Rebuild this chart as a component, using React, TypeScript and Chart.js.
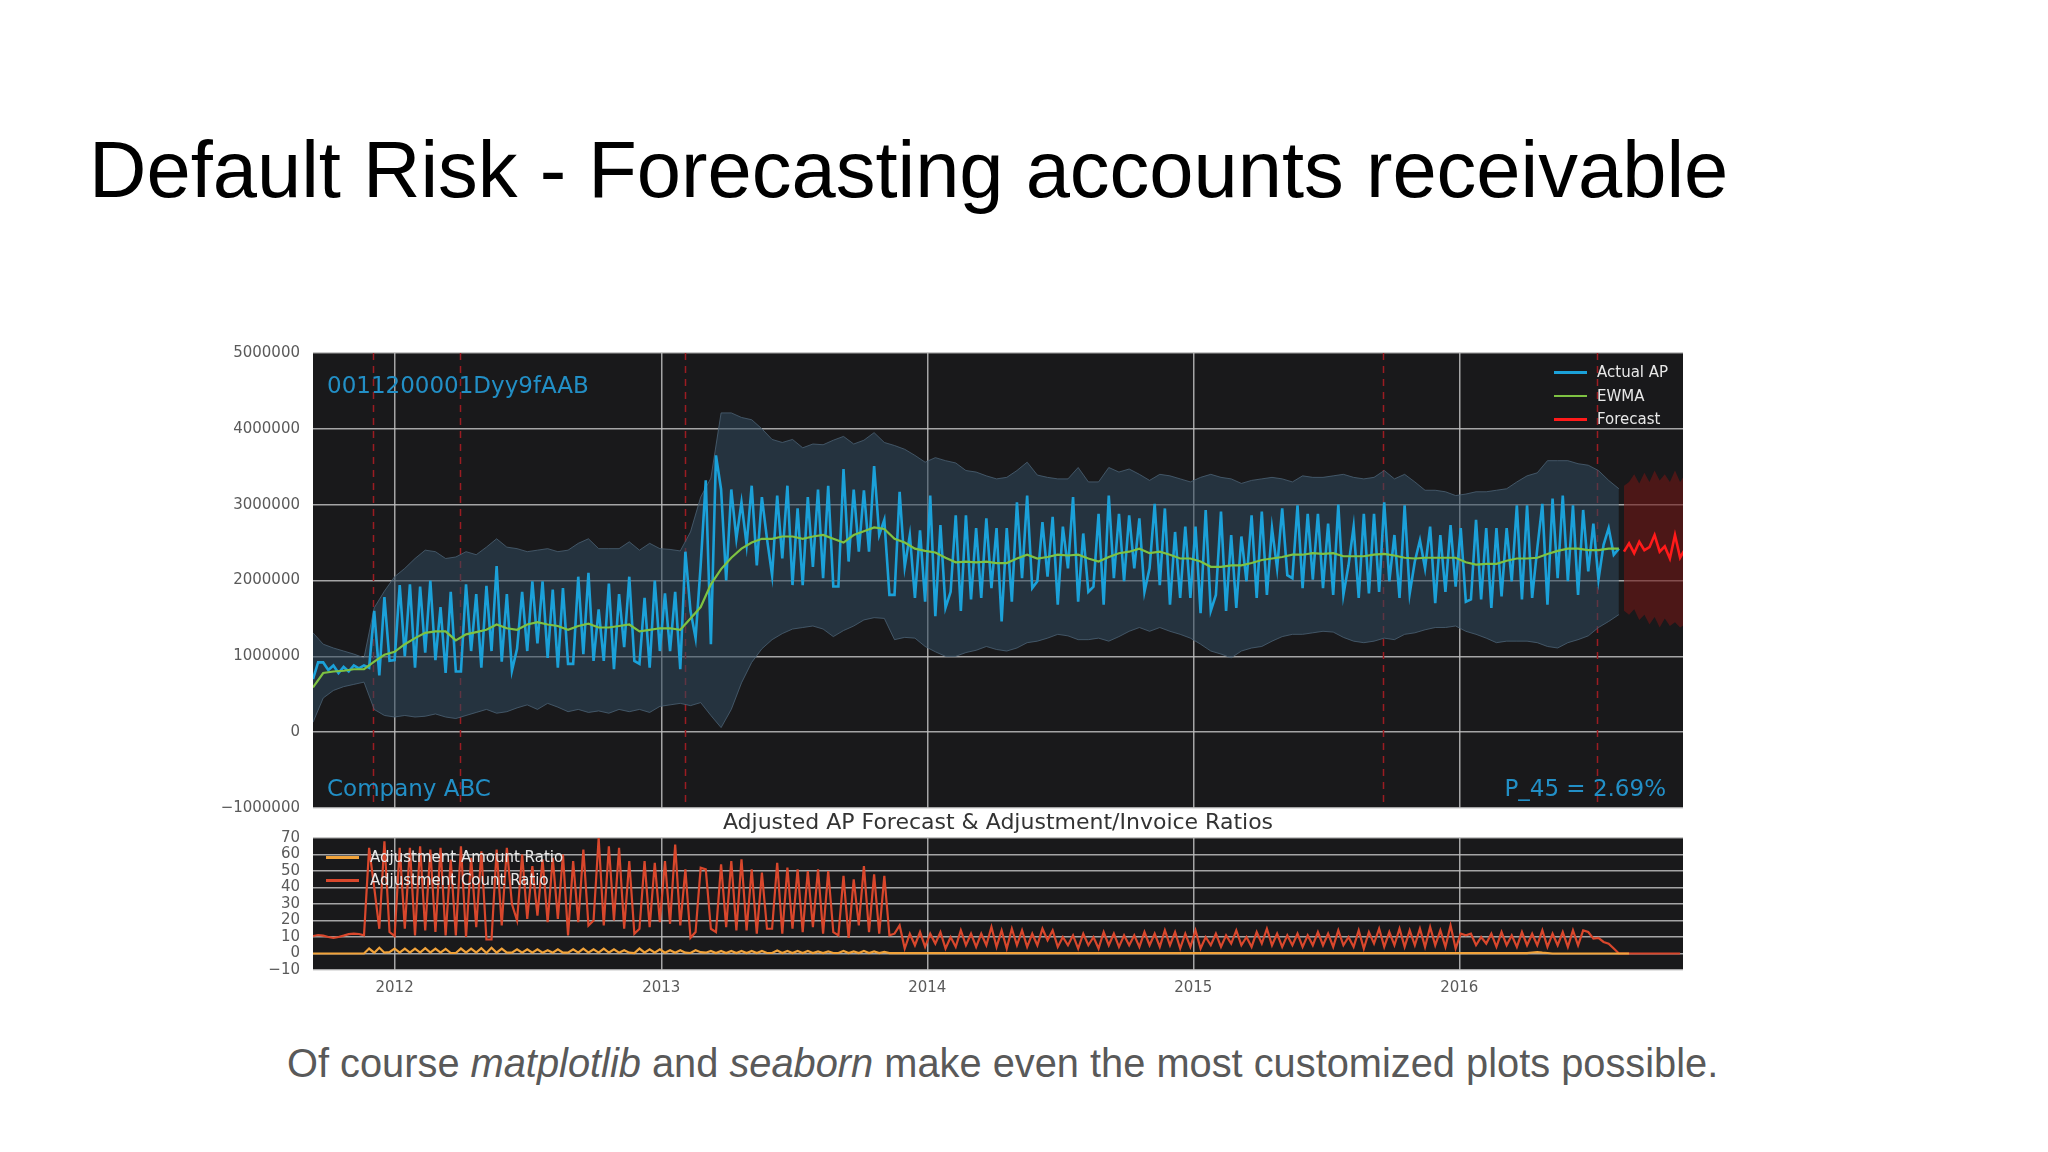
import React, { useEffect, useRef } from "react";
import { Chart, registerables } from "chart.js";

Chart.register(...registerables);

const FONT = "'DejaVu Sans', sans-serif";
const SLIDE_FONT = "'Liberation Sans', Arial, sans-serif";

// ---- axis / category data ----
const SERIES_START = "2011-09-11"; // first weekly observation
const AXIS_END = "2016-11-03";
const YEAR_TICKS = [2012, 2013, 2014, 2015, 2016];
const EVENT_DATES = ["2011-12-02", "2012-03-31", "2013-02-03", "2015-09-19", "2016-07-08"];
const Y_TICKS_MAIN = [-1, 0, 1, 2, 3, 4, 5]; // millions
const Y_TICKS_LOW = [-10, 0, 10, 20, 30, 40, 50, 60, 70];
const FORECAST_START_WEEK = 257;
const BAND_STEP_WEEKS = 2;

// ---- main series (millions), weekly ----
const actualAP = [
  0.70, 0.92, 0.92, 0.82, 0.88, 0.78, 0.86, 0.80, 0.88, 0.84, 0.88, 0.85,
  1.60, 0.75, 1.78, 0.94, 0.95, 1.94, 1.00, 1.95, 0.85, 1.92, 1.05, 2.00,
  0.95, 1.65, 0.78, 1.85, 0.80, 0.80, 1.95, 1.07, 1.82, 0.85, 1.93, 1.07,
  2.19, 0.93, 1.82, 0.81, 1.10, 1.85, 1.07, 1.99, 1.17, 1.99, 0.98, 1.88,
  0.85, 1.90, 0.90, 0.90, 2.05, 1.03, 2.10, 0.94, 1.62, 0.94, 1.96, 0.83,
  1.82, 1.12, 2.05, 0.94, 0.90, 1.77, 0.85,
  2.00, 1.07, 1.83, 1.07, 1.85, 0.83, 2.38, 1.60, 1.24, 2.20, 3.32, 1.16,
  3.65, 3.20, 2.00, 3.20, 2.55, 3.03, 2.47, 3.25, 2.20, 3.10, 2.55, 2.07,
  3.12, 2.29, 3.25, 1.94, 2.95, 1.94, 3.10, 2.18, 3.20, 2.03, 3.25, 1.92,
  1.92, 3.47, 2.25, 3.20, 2.38, 3.19, 2.38, 3.51, 2.60, 2.80, 1.81, 1.81,
  3.17, 2.18, 2.60, 1.77, 2.66, 1.72, 3.12, 1.53, 2.73, 1.64, 1.85, 2.86,
  1.60, 2.86, 1.75, 2.69, 1.77, 2.82, 1.90,
  2.69, 1.46, 2.69, 1.72, 3.03, 2.03, 3.12, 1.90, 1.99, 2.77, 2.05, 2.84,
  1.68, 2.71, 2.16, 3.10, 1.72, 2.62, 1.85, 1.92, 2.88, 1.68, 3.12, 2.03,
  2.88, 1.99, 2.86, 2.16, 2.82, 1.85, 2.16, 3.01, 1.94, 2.95, 1.68, 2.64,
  1.77, 2.71, 1.77, 2.71, 1.57, 2.93, 1.60, 1.81, 2.91, 1.60, 2.60, 1.64,
  2.58, 1.99, 2.86, 1.77, 2.91, 1.81, 2.69, 2.16, 2.95, 2.07, 2.03, 2.99,
  1.90, 2.88, 2.01, 2.88, 1.90, 2.75, 1.81,
  3.00, 1.81, 2.20, 2.71, 1.77, 2.88, 1.83, 2.88, 1.85, 3.03, 1.99, 2.60,
  1.77, 2.99, 1.83, 2.25, 2.53, 2.16, 2.71, 1.70, 2.60, 1.85, 2.73, 1.92,
  2.69, 1.72, 1.75, 2.80, 1.75, 2.69, 1.64, 2.69, 1.79, 2.69, 1.99, 2.99,
  1.75, 2.99, 1.77, 2.42, 3.01, 1.68, 3.08, 2.03, 3.12, 1.99, 2.99, 1.81,
  2.93, 2.12, 2.75, 2.01, 2.47, 2.69, 2.34, 2.42,
];

// every 2 weeks
const ewma = [
  0.59, 0.78, 0.80, 0.81, 0.83, 0.83, 0.93, 1.02, 1.06, 1.16, 1.24, 1.31, 1.33, 1.33, 1.21, 1.29, 1.32,
  1.35, 1.42, 1.37, 1.35, 1.42, 1.45, 1.42, 1.40, 1.35, 1.40, 1.43, 1.38, 1.38, 1.40, 1.42, 1.33, 1.35,
  1.37, 1.37, 1.35, 1.50, 1.65, 1.95, 2.15, 2.30, 2.42, 2.50, 2.55, 2.55, 2.58, 2.58, 2.55, 2.58, 2.60,
  2.55, 2.50, 2.60, 2.65, 2.70, 2.68, 2.55, 2.50, 2.42, 2.39, 2.37, 2.30, 2.24, 2.25, 2.24, 2.25,
  2.23, 2.23, 2.29, 2.34, 2.29, 2.31, 2.34, 2.33, 2.34, 2.29, 2.25, 2.31, 2.36, 2.38, 2.42, 2.36, 2.38,
  2.34, 2.29, 2.29, 2.25, 2.18, 2.18, 2.20, 2.20, 2.23, 2.27, 2.29, 2.31, 2.34, 2.34, 2.36, 2.35, 2.36,
  2.32, 2.32, 2.32, 2.34, 2.35, 2.33, 2.30, 2.29, 2.30, 2.30, 2.30, 2.30, 2.24, 2.21, 2.22, 2.22, 2.26,
  2.29, 2.29, 2.30, 2.35, 2.39, 2.42, 2.42, 2.40, 2.40, 2.42, 2.42,
];

const bandUpper = [
  1.31, 1.16, 1.11, 1.07, 1.03, 0.98, 1.64, 1.86, 2.05, 2.16, 2.29, 2.40, 2.38, 2.29, 2.31, 2.38, 2.34,
  2.44, 2.55, 2.44, 2.42, 2.38, 2.40, 2.42, 2.38, 2.40, 2.49, 2.55, 2.42, 2.42, 2.42, 2.51, 2.40, 2.49,
  2.42, 2.41, 2.39, 2.64, 3.10, 3.35, 4.21, 4.21, 4.15, 4.12, 4.00, 3.86, 3.82, 3.86, 3.75, 3.80, 3.79,
  3.85, 3.90, 3.80, 3.85, 3.95, 3.82, 3.78, 3.73, 3.65, 3.56, 3.62, 3.58, 3.55, 3.45, 3.43, 3.38,
  3.34, 3.36, 3.45, 3.56, 3.39, 3.36, 3.34, 3.34, 3.49, 3.30, 3.30, 3.49, 3.43, 3.47, 3.40, 3.32, 3.40,
  3.38, 3.34, 3.30, 3.36, 3.40, 3.36, 3.34, 3.28, 3.32, 3.34, 3.36, 3.34, 3.30, 3.38, 3.36, 3.36, 3.38,
  3.40, 3.36, 3.34, 3.36, 3.45, 3.34, 3.40, 3.30, 3.19, 3.19, 3.17, 3.12, 3.14, 3.17, 3.17, 3.19, 3.21,
  3.30, 3.38, 3.42, 3.58, 3.58, 3.58, 3.54, 3.52, 3.45, 3.32, 3.21,
];

const bandLower = [
  0.13, 0.45, 0.55, 0.60, 0.63, 0.66, 0.30, 0.22, 0.20, 0.22, 0.20, 0.21, 0.24, 0.20, 0.18, 0.22, 0.26,
  0.30, 0.25, 0.27, 0.32, 0.36, 0.30, 0.38, 0.33, 0.27, 0.30, 0.26, 0.28, 0.25, 0.30, 0.27, 0.30, 0.26,
  0.34, 0.36, 0.38, 0.35, 0.39, 0.22, 0.06, 0.30, 0.65, 0.92, 1.10, 1.22, 1.30, 1.36, 1.38, 1.40, 1.36,
  1.26, 1.34, 1.40, 1.48, 1.51, 1.50, 1.22, 1.25, 1.24, 1.13, 1.06, 1.00, 1.00, 1.05, 1.08, 1.13,
  1.09, 1.07, 1.11, 1.18, 1.20, 1.24, 1.29, 1.27, 1.22, 1.22, 1.24, 1.20, 1.26, 1.33, 1.38, 1.33, 1.38,
  1.33, 1.29, 1.24, 1.16, 1.07, 1.03, 0.98, 1.07, 1.11, 1.13, 1.20, 1.26, 1.29, 1.29, 1.31, 1.33, 1.32,
  1.25, 1.20, 1.18, 1.20, 1.24, 1.22, 1.29, 1.31, 1.35, 1.38, 1.38, 1.40, 1.33, 1.29, 1.24, 1.18, 1.20,
  1.20, 1.20, 1.18, 1.13, 1.11, 1.18, 1.22, 1.27, 1.38, 1.46, 1.55,
];

const forecast = [2.38, 2.49, 2.36, 2.51, 2.40, 2.44, 2.60, 2.38, 2.45, 2.29, 2.60, 2.30, 2.42];
const forecastUpper = [3.25, 3.30, 3.40, 3.28, 3.42, 3.30, 3.45, 3.32, 3.40, 3.30, 3.45, 3.30, 3.40];
const forecastLower = [1.60, 1.55, 1.62, 1.48, 1.55, 1.42, 1.52, 1.38, 1.50, 1.40, 1.45, 1.38, 1.42];

// ---- lower panel, weekly ratios ----
const adjCountRatio = [
  10.6, 11.2, 10.8, 10.0, 9.5, 10.0, 10.8, 11.7, 12.1, 11.8, 11.0,
  64, 40, 15, 68, 13, 10.6, 64, 15, 64, 11,
  65, 14, 63, 13, 64, 11, 57, 11, 65, 10,
  58, 16, 62, 8.5, 8.5, 63, 17, 64, 30, 20,
  60, 21, 53, 23, 57, 19, 58, 21, 60, 11,
  56, 19, 63, 17, 20, 70, 17, 65, 20, 64,
  15, 56, 12, 15, 56, 16, 55, 19, 56, 18,
  66, 17, 51, 9.5, 13, 52, 51, 15, 13, 54,
  16, 56, 14, 57, 14, 51, 12, 49, 15, 15,
  55, 12, 52, 15, 51, 13, 50, 16, 51, 12,
  50, 13, 11, 47, 9.5, 45, 17, 53, 13, 48,
  12, 47, 11, 12, 17, 3, 12, 5, 13, 4,
  12, 6, 13, 3, 10, 4, 14, 5, 12, 4,
  12, 5, 16, 4, 14, 3, 15, 5, 14, 4,
  12, 5, 15, 8, 14, 4, 10, 5, 11, 3,
  12, 5, 10, 3, 13, 5, 12, 4, 11, 5,
  11, 4, 13, 5, 12, 4, 14, 5, 13, 3,
  12, 4, 14, 3, 10, 5, 12, 4, 11, 6,
  14, 5, 10, 4, 13, 6, 15, 5, 12, 4,
  11, 5, 12, 4, 11, 5, 13, 5, 12, 4,
  14, 5, 10, 4, 14, 3, 13, 6, 15, 4,
  13, 5, 15, 4, 14, 5, 15, 4, 16, 5,
  14, 4, 17, 3, 12, 11, 12, 5, 10, 6,
  12, 4, 13, 5, 11, 4, 13, 5, 12, 5,
  14, 4, 12, 5, 13, 4, 14, 5, 14, 13,
  9, 9.5, 7, 6, 3, 0, 0, 0, 0, 0,
  0, 0, 0, 0, 0, 0, 0, 0,
];

const adjAmountRatio = [
  0, 0, 0, 0, 0, 0, 0, 0, 0, 0, 0,
  3.0, 0.5, 3.5, 0.5, 0.8, 3.0, 0.5, 3.0, 0.5, 3.0,
  0.5, 3.2, 0.5, 3.0, 0.5, 2.8, 0.3, 0.3, 3.0, 0.5,
  3.0, 0.5, 3.2, 0.3, 3.5, 0.5, 3.0, 0.5, 0.5, 2.5,
  0.5, 2.5, 0.5, 2.5, 0.5, 2.0, 0.5, 2.5, 0.5, 0.5,
  2.5, 0.5, 3.0, 0.5, 2.5, 0.5, 3.0, 0.5, 2.5, 0.5,
  2.0, 0.5, 0.3, 3.0, 0.5, 2.5, 0.5, 2.5, 0.5, 2.0,
  0.5, 2.0, 0.5, 0.3, 2.0, 0.8, 0.5, 1.5, 0.3, 1.5,
  0.3, 1.5, 0.3, 1.5, 0.3, 1.5, 0.3, 1.5, 0.3, 0.3,
  1.8, 0.3, 1.5, 0.3, 1.5, 0.3, 1.5, 0.3, 1.2, 0.3,
  1.2, 0.3, 0.3, 1.5, 0.3, 1.2, 0.3, 1.5, 0.3, 1.2,
  0.2, 1.0, 0.2, 0.2, 0.3, 0.2, 0.2, 0.2, 0.2, 0.2,
  0.2, 0.2, 0.3, 0.2, 0.2, 0.2, 0.2, 0.3, 0.2, 0.2,
  0.2, 0.2, 0.2, 0.3, 0.2, 0.2, 0.2, 0.2, 0.2, 0.3,
  0.2, 0.2, 0.2, 0.2, 0.3, 0.2, 0.2, 0.2, 0.2, 0.2,
  0.3, 0.2, 0.2, 0.2, 0.2, 0.2, 0.3, 0.2, 0.2, 0.2,
  0.2, 0.2, 0.2, 0.3, 0.2, 0.2, 0.2, 0.2, 0.2, 0.2,
  0.3, 0.2, 0.2, 0.2, 0.2, 0.2, 0.2, 0.3, 0.2, 0.2,
  0.2, 0.2, 0.2, 0.2, 0.3, 0.2, 0.2, 0.2, 0.2, 0.2,
  0.2, 0.3, 0.2, 0.2, 0.2, 0.2, 0.2, 0.2, 0.3, 0.2,
  0.2, 0.2, 0.2, 0.2, 0.2, 0.3, 0.2, 0.2, 0.2, 0.2,
  0.3, 0.2, 0.2, 0.2, 0.2, 0.2, 0.2, 0.3, 0.2, 0.2,
  0.2, 0.2, 0.2, 0.2, 0.3, 0.2, 0.2, 0.2, 0.2, 0.2,
  0.2, 0.2, 0.2, 0.2, 0.2, 0.2, 0.2, 0.2, 0.6, 0.8,
  0.5, 0.3, 0, 0, 0, 0, 0, 0, 0, 0,
  0, 0, 0, 0, 0, 0, 0, 0,
];

// ---- styles ----
const PLOT_BG = "#19191b";
const GRID = "rgba(190,190,190,0.85)";
const TICK = "#5a5a5a";
const BLUE = "#1ba1d9";
const GREEN = "#7ec242";
const RED = "#ff1a1a";
const BAND_FILL = "rgba(48,72,92,0.55)";
const BAND_EDGE = "rgba(75,98,116,0.8)";
const FC_FILL = "rgba(110,22,22,0.6)";
const EVENT_COLOR = "#9b1c22";
const ORANGE = "#f2a33a";
const COUNT_RED = "#d9472c";
const LABEL_BLUE = "#228fc6";

const T0 = Date.parse(SERIES_START);
const T_END = Date.parse(AXIS_END);
const WEEK_MS = 7 * 24 * 3600 * 1000;
const weekTime = (i: number) => T0 + i * WEEK_MS;
const toPoints = (arr: number[], step: number, offset = 0) =>
  arr.map((y, k) => ({ x: weekTime(offset + k * step), y }));

const fmtMain = (v: number) => {
  const n = Math.round(Number(v) * 1000000);
  return (n < 0 ? "\u2212" : "") + String(Math.abs(n));
};
const fmtLow = (v: number) => (v < 0 ? "\u2212" : "") + String(Math.abs(v));

const bgPlugin = {
  id: "plotBg",
  beforeDraw(chart: any) {
    const { ctx, chartArea } = chart;
    if (!chartArea) return;
    ctx.save();
    ctx.fillStyle = PLOT_BG;
    ctx.fillRect(chartArea.left, chartArea.top, chartArea.right - chartArea.left, chartArea.bottom - chartArea.top);
    ctx.restore();
  },
};

const eventPlugin = {
  id: "eventLines",
  beforeDatasetsDraw(chart: any) {
    const { ctx, chartArea, scales } = chart;
    ctx.save();
    ctx.strokeStyle = EVENT_COLOR;
    ctx.lineWidth = 1.5;
    ctx.setLineDash([7, 6]);
    EVENT_DATES.forEach((d) => {
      const px = Math.round(scales.x.getPixelForValue(Date.parse(d))) + 0.5;
      ctx.beginPath();
      ctx.moveTo(px, chartArea.top);
      ctx.lineTo(px, chartArea.bottom);
      ctx.stroke();
    });
    ctx.restore();
  },
};

const xYearTicks = (s: any) => {
  s.ticks = YEAR_TICKS.map((y) => ({ value: Date.UTC(y, 0, 1) }));
};
const fixYWidth = (s: any) => {
  s.width = 123;
  s.paddingTop = 0;
  s.paddingBottom = 0;
};

export default function App() {
  const mainRef = useRef<HTMLCanvasElement>(null);
  const lowRef = useRef<HTMLCanvasElement>(null);

  useEffect(() => {
    const lineBase = { pointRadius: 0, pointHoverRadius: 0, tension: 0, fill: false };
    const main = new Chart(mainRef.current as HTMLCanvasElement, {
      type: "line",
      data: {
        datasets: [
          { ...lineBase, label: "band lower", data: toPoints(bandLower, BAND_STEP_WEEKS), borderColor: BAND_EDGE, borderWidth: 1, order: 10 },
          { ...lineBase, label: "band upper", data: toPoints(bandUpper, BAND_STEP_WEEKS), borderColor: BAND_EDGE, borderWidth: 1, fill: { target: 0 }, backgroundColor: BAND_FILL, order: 10 },
          { ...lineBase, label: "forecast lower", data: toPoints(forecastLower, 1, FORECAST_START_WEEK), borderColor: "rgba(0,0,0,0)", borderWidth: 1, order: 9 },
          { ...lineBase, label: "forecast upper", data: toPoints(forecastUpper, 1, FORECAST_START_WEEK), borderColor: "rgba(0,0,0,0)", borderWidth: 1, fill: { target: 2 }, backgroundColor: FC_FILL, order: 9 },
          { ...lineBase, label: "Actual AP", data: toPoints(actualAP, 1), borderColor: BLUE, borderWidth: 2.6, order: 3 },
          { ...lineBase, label: "EWMA", data: toPoints(ewma, 2), borderColor: GREEN, borderWidth: 2.2, order: 2 },
          { ...lineBase, label: "Forecast", data: toPoints(forecast, 1, FORECAST_START_WEEK), borderColor: RED, borderWidth: 2.6, order: 1 },
        ],
      },
      options: {
        responsive: false,
        maintainAspectRatio: false,
        animation: false,
        events: [],
        layout: { padding: { top: 13, right: 10, bottom: 12, left: 0 } },
        plugins: { legend: { display: false }, tooltip: { enabled: false }, title: { display: false } },
        scales: {
          x: {
            type: "linear",
            min: T0,
            max: T_END,
            afterBuildTicks: xYearTicks,
            afterFit: (s: any) => { s.height = 0; s.paddingLeft = 0; s.paddingRight = 0; },
            ticks: { display: false },
            grid: { color: GRID, lineWidth: 1.5, drawTicks: false },
            border: { display: false },
          },
          y: {
            type: "linear",
            min: -1,
            max: 5,
            afterBuildTicks: (s: any) => { s.ticks = Y_TICKS_MAIN.map((v) => ({ value: v })); },
            afterFit: fixYWidth,
            ticks: { callback: (v: any) => fmtMain(v), color: TICK, font: { family: FONT, size: 15 }, padding: 13, autoSkip: false },
            grid: { color: GRID, lineWidth: 1.5, drawTicks: false },
            border: { display: false },
          },
        },
      } as any,
      plugins: [bgPlugin, eventPlugin],
    });

    const low = new Chart(lowRef.current as HTMLCanvasElement, {
      type: "line",
      data: {
        datasets: [
          { ...lineBase, label: "Adjustment Amount Ratio", data: toPoints(adjAmountRatio, 1), borderColor: ORANGE, borderWidth: 2.2, order: 1 },
          { ...lineBase, label: "Adjustment Count Ratio", data: toPoints(adjCountRatio, 1), borderColor: COUNT_RED, borderWidth: 2.2, order: 2 },
        ],
      },
      options: {
        responsive: false,
        maintainAspectRatio: false,
        animation: false,
        events: [],
        layout: { padding: { top: 13, right: 10, bottom: 0, left: 0 } },
        plugins: { legend: { display: false }, tooltip: { enabled: false }, title: { display: false } },
        scales: {
          x: {
            type: "linear",
            min: T0,
            max: T_END,
            afterBuildTicks: xYearTicks,
            afterFit: (s: any) => { s.height = 40; s.paddingLeft = 0; s.paddingRight = 0; },
            ticks: {
              callback: (v: any) => String(new Date(Number(v)).getUTCFullYear()),
              color: TICK,
              font: { family: FONT, size: 15 },
              padding: 9,
              maxRotation: 0,
              autoSkip: false,
            },
            grid: { color: GRID, lineWidth: 1.5, drawTicks: false },
            border: { display: false },
          },
          y: {
            type: "linear",
            min: -10,
            max: 70,
            afterBuildTicks: (s: any) => { s.ticks = Y_TICKS_LOW.map((v) => ({ value: v })); },
            afterFit: fixYWidth,
            ticks: { callback: (v: any) => fmtLow(Number(v)), color: TICK, font: { family: FONT, size: 15 }, padding: 13, autoSkip: false },
            grid: { color: GRID, lineWidth: 1.5, drawTicks: false },
            border: { display: false },
          },
        },
      } as any,
      plugins: [bgPlugin],
    });

    return () => {
      main.destroy();
      low.destroy();
    };
  }, []);

  const abs = (o: any): React.CSSProperties => ({ position: "absolute", whiteSpace: "nowrap", ...o });
  const swatch = (left: number, top: number, color: string, h = 3) => (
    <div style={abs({ left, top: top - h / 2, width: 33, height: h, background: color })} />
  );
  const legendText = (left: number, center: number, text: string) => (
    <div style={abs({ left, top: center - 9, lineHeight: "18px", fontSize: 15, fontFamily: FONT, color: "#e8e8e8" })}>{text}</div>
  );

  return (
    <div style={{ position: "absolute", left: 0, top: 0, width: 2048, height: 1152, background: "#ffffff", overflow: "hidden" }}>
      <div style={abs({ left: 89, top: 130, fontFamily: SLIDE_FONT, fontSize: 79.5, lineHeight: "80px", color: "#000" })}>
        Default Risk - Forecasting accounts receivable
      </div>

      <canvas ref={mainRef} width={1503} height={480} style={{ position: "absolute", left: 190, top: 340, width: 1503, height: 480 }} />
      <canvas ref={lowRef} width={1503} height={185} style={{ position: "absolute", left: 190, top: 825, width: 1503, height: 185 }} />

      {/* in-plot annotations of the main panel */}
      <div style={abs({ left: 327, top: 373.5, fontFamily: FONT, fontSize: 23, lineHeight: "23px", color: LABEL_BLUE })}>0011200001Dyy9fAAB</div>
      <div style={abs({ left: 327, top: 776.5, fontFamily: FONT, fontSize: 23, lineHeight: "23px", color: LABEL_BLUE })}>Company ABC</div>
      <div style={abs({ right: 2048 - 1666, top: 776.5, fontFamily: FONT, fontSize: 23, lineHeight: "23px", color: LABEL_BLUE })}>P_45 = 2.69%</div>

      {swatch(1554, 372, BLUE)}
      {legendText(1597, 372, "Actual AP")}
      {swatch(1554, 396, GREEN, 2)}
      {legendText(1597, 396, "EWMA")}
      {swatch(1554, 419, RED)}
      {legendText(1597, 419, "Forecast")}

      {/* lower panel title + legend */}
      <div style={abs({ left: 998, top: 811, transform: "translateX(-50%)", fontFamily: FONT, fontSize: 22, lineHeight: "22px", color: "#333333" })}>
        Adjusted AP Forecast &amp; Adjustment/Invoice Ratios
      </div>
      {swatch(326, 857, ORANGE)}
      {legendText(370, 857, "Adjustment Amount Ratio")}
      {swatch(326, 880, COUNT_RED)}
      {legendText(370, 880, "Adjustment Count Ratio")}

      <div style={abs({ left: 287, top: 1043, fontFamily: SLIDE_FONT, fontSize: 39.8, lineHeight: "40px", color: "#595959" })}>
        Of course <i>matplotlib</i> and <i>seaborn</i> make even the most customized plots possible.
      </div>
    </div>
  );
}
